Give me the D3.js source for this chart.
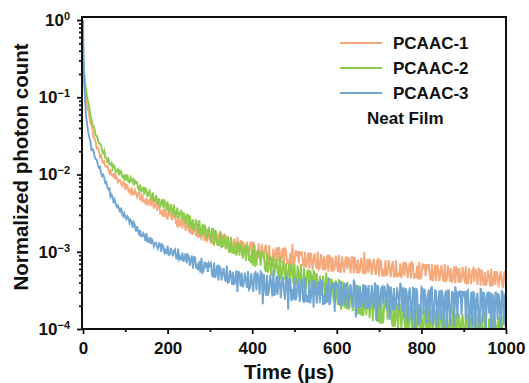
<!DOCTYPE html>
<html>
<head>
<meta charset="utf-8">
<script src="https://cdn.jsdelivr.net/npm/d3@7"></script>
<style>
  body { margin: 0; background: #fff; }
  text { font-family: "Liberation Sans", Arial, sans-serif; font-weight: bold; fill: #111; }
</style>
</head>
<body>
<script>
// width of one time bin of the decay traces (µs)
var dt = 5;

// log10(normalized photon count) x 100
// *Whole: bins at 0, 5, 10 ... 1000 µs;  *Half: bins at 2.5, 7.5 ... 997.5 µs
var pcaac1Whole = [
  -70, -93, -114, -125, -136, -152, -159, -165, -177, -181,
  -183, -190, -193, -193, -202, -206, -204, -207, -212, -210,
  -220, -214, -220, -217, -226, -224, -224, -232, -225, -234,
  -230, -236, -241, -236, -239, -247, -240, -248, -245, -244,
  -257, -252, -259, -255, -263, -254, -264, -270, -261, -265,
  -272, -260, -277, -270, -269, -278, -285, -273, -272, -284,
  -280, -272, -290, -284, -279, -290, -282, -278, -296, -290,
  -283, -294, -290, -281, -297, -300, -290, -292, -298, -289,
  -309, -291, -299, -289, -306, -300, -296, -311, -291, -307,
  -296, -305, -312, -299, -304, -316, -298, -310, -301, -290,
  -315, -306, -315, -305, -317, -300, -312, -322, -305, -311,
  -317, -300, -321, -311, -306, -318, -326, -309, -307, -321,
  -315, -304, -326, -317, -310, -323, -313, -307, -328, -319,
  -310, -323, -317, -300, -324, -327, -314, -317, -323, -312,
  -332, -314, -322, -311, -328, -321, -318, -332, -311, -327,
  -315, -325, -331, -318, -322, -335, -316, -328, -318, -313,
  -332, -323, -332, -322, -333, -316, -329, -338, -321, -326,
  -332, -316, -336, -326, -321, -333, -341, -324, -321, -336,
  -330, -319, -341, -332, -325, -339, -328, -322, -344, -335,
  -326, -339, -333, -322, -340, -343, -330, -333, -339, -328,
  -348
];
var pcaac1Half = [
  -82, -103, -117, -133, -142, -154, -166, -168, -175, -185,
  -189, -189, -198, -201, -198, -201, -210, -207, -215, -211,
  -213, -222, -224, -226, -220, -229, -223, -233, -235, -237,
  -240, -231, -233, -244, -236, -238, -250, -252, -255, -256,
  -247, -249, -250, -252, -266, -268, -257, -258, -273, -260,
  -276, -277, -265, -280, -282, -269, -270, -286, -286, -273,
  -289, -290, -275, -292, -276, -277, -294, -279, -280, -297,
  -298, -283, -300, -300, -285, -286, -303, -287, -305, -288,
  -287, -308, -309, -309, -290, -310, -291, -312, -312, -313,
  -313, -294, -294, -315, -295, -296, -316, -317, -318, -318,
  -298, -299, -299, -300, -320, -321, -301, -301, -323, -302,
  -322, -323, -303, -324, -324, -304, -304, -326, -325, -305,
  -326, -326, -306, -327, -306, -307, -328, -307, -307, -328,
  -328, -308, -329, -329, -309, -309, -330, -309, -330, -310,
  -310, -332, -332, -331, -311, -333, -312, -332, -333, -332,
  -334, -313, -313, -334, -314, -314, -335, -334, -336, -336,
  -315, -316, -316, -316, -337, -338, -317, -317, -338, -317,
  -339, -339, -318, -339, -340, -319, -319, -340, -340, -320,
  -341, -341, -321, -342, -322, -322, -343, -323, -323, -344,
  -344, -324, -345, -345, -325, -325, -346, -325, -347, -326
];

var pcaac2Whole = [
  -48, -81, -102, -114, -128, -137, -150, -155, -160, -169,
  -169, -178, -180, -187, -192, -190, -195, -201, -196, -202,
  -200, -200, -210, -208, -214, -211, -218, -213, -220, -226,
  -220, -224, -229, -223, -235, -232, -231, -238, -244, -237,
  -235, -247, -245, -239, -254, -251, -248, -259, -254, -252,
  -269, -264, -258, -269, -266, -259, -276, -279, -270, -273,
  -281, -270, -292, -275, -284, -274, -293, -287, -285, -300,
  -281, -298, -288, -298, -305, -294, -299, -312, -294, -308,
  -297, -291, -317, -306, -318, -307, -322, -302, -318, -331,
  -310, -317, -326, -306, -333, -320, -315, -330, -341, -322,
  -316, -339, -331, -316, -347, -336, -326, -347, -332, -325,
  -356, -345, -331, -350, -342, -327, -355, -360, -341, -346,
  -358, -337, -375, -343, -358, -339, -371, -359, -353, -380,
  -343, -373, -352, -370, -382, -359, -367, -390, -356, -380,
  -363, -353, -389, -373, -388, -371, -392, -362, -384, -401,
  -371, -381, -392, -362, -399, -381, -373, -393, -409, -378,
  -373, -399, -389, -369, -408, -392, -380, -404, -385, -374,
  -413, -397, -380, -403, -392, -372, -406, -410, -386, -392,
  -403, -381, -418, -386, -399, -379, -410, -397, -391, -416,
  -378, -407, -386, -403, -414, -390, -397, -420, -385, -407,
  -389
];
var pcaac2Half = [
  -65, -90, -106, -123, -136, -142, -150, -160, -162, -172,
  -178, -183, -187, -185, -188, -197, -193, -195, -203, -206,
  -208, -210, -204, -206, -208, -210, -220, -222, -216, -218,
  -229, -221, -233, -235, -227, -239, -241, -232, -234, -246,
  -248, -238, -252, -253, -243, -257, -247, -249, -264, -252,
  -253, -271, -273, -258, -276, -278, -264, -265, -283, -268,
  -287, -270, -272, -291, -293, -294, -278, -297, -281, -300,
  -302, -303, -305, -288, -289, -309, -292, -293, -312, -315,
  -318, -318, -298, -299, -300, -302, -326, -327, -305, -307,
  -331, -309, -333, -334, -312, -336, -337, -315, -316, -342,
  -344, -318, -346, -347, -321, -349, -323, -324, -353, -327,
  -328, -356, -357, -331, -360, -360, -334, -335, -364, -337,
  -369, -338, -339, -372, -374, -375, -344, -377, -346, -380,
  -381, -382, -383, -352, -353, -386, -355, -356, -389, -391,
  -393, -393, -362, -362, -363, -364, -397, -397, -366, -367,
  -400, -368, -401, -401, -370, -403, -403, -372, -372, -406,
  -405, -374, -407, -407, -375, -408, -376, -377, -410, -378,
  -378, -410, -411, -379, -412, -412, -380, -380, -413, -381,
  -413, -381, -382, -414, -414, -414, -382, -415, -383, -415,
  -415, -416, -416, -384, -384, -416, -385, -385, -417, -417
];

var pcaac3Whole = [
  0, -106, -136, -152, -168, -170, -180, -187, -190, -202,
  -204, -210, -219, -229, -229, -233, -242, -244, -243, -254,
  -255, -254, -263, -261, -262, -274, -273, -272, -280, -279,
  -276, -287, -290, -286, -289, -293, -289, -300, -293, -298,
  -292, -304, -300, -299, -308, -296, -307, -301, -309, -315,
  -306, -310, -322, -307, -318, -312, -308, -325, -318, -326,
  -318, -330, -314, -327, -337, -321, -327, -334, -318, -339,
  -330, -326, -337, -352, -329, -327, -341, -336, -325, -347,
  -340, -329, -350, -334, -326, -368, -345, -330, -349, -340,
  -324, -352, -356, -337, -340, -350, -332, -375, -337, -348,
  -333, -358, -348, -343, -362, -333, -356, -338, -353, -372,
  -343, -348, -366, -338, -356, -342, -333, -363, -348, -378,
  -347, -363, -338, -357, -369, -344, -352, -361, -336, -385,
  -351, -344, -360, -373, -348, -343, -365, -356, -340, -390,
  -358, -347, -368, -352, -343, -388, -362, -347, -365, -356,
  -340, -378, -385, -352, -355, -372, -347, -400, -351, -368,
  -346, -382, -361, -356, -392, -345, -378, -351, -366, -388,
  -355, -360, -405, -350, -376, -354, -345, -386, -359, -382,
  -358, -388, -350, -376, -398, -355, -362, -384, -347, -392,
  -361, -354, -380, -410, -359, -353, -388, -366, -350, -395,
  -375
];
var pcaac3Half = [
  -75, -126, -146, -157, -167, -177, -181, -191, -198, -200,
  -211, -216, -218, -226, -237, -239, -240, -249, -251, -250,
  -258, -256, -259, -269, -265, -267, -277, -280, -276, -286,
  -287, -281, -284, -293, -288, -296, -290, -291, -301, -303,
  -304, -295, -306, -297, -309, -310, -311, -313, -302, -304,
  -318, -305, -307, -322, -324, -327, -327, -313, -314, -315,
  -315, -333, -334, -317, -319, -337, -321, -339, -340, -324,
  -343, -343, -324, -325, -345, -346, -327, -347, -349, -328,
  -352, -327, -327, -355, -328, -329, -357, -357, -330, -358,
  -357, -331, -331, -360, -333, -362, -334, -334, -364, -362,
  -363, -335, -365, -335, -366, -365, -366, -367, -337, -337,
  -367, -338, -337, -369, -368, -366, -369, -340, -340, -339,
  -340, -370, -370, -340, -341, -372, -342, -372, -341, -343,
  -373, -372, -342, -343, -374, -373, -343, -374, -344, -343,
  -374, -345, -344, -375, -345, -345, -376, -375, -346, -376,
  -346, -346, -347, -392, -346, -390, -348, -347, -395, -392,
  -348, -348, -393, -349, -348, -395, -350, -398, -350, -349,
  -398, -350, -350, -396, -351, -396, -353, -351, -350, -351,
  -351, -352, -400, -352, -351, -400, -353, -400, -353, -352,
  -402, -353, -352, -354, -405, -353, -354, -405, -353, -354
];

var seriesNames = ["PCAAC-1", "PCAAC-2", "PCAAC-3"];
var seriesColors = ["#f6a97b", "#8dcb4c", "#71a6d3"];
var xTicks = [0, 200, 400, 600, 800, 1000];
var xMinorTicks = [100, 300, 500, 700, 900];
var yTicks = [1e-4, 1e-3, 1e-2, 1e-1, 1];

drawChart();

// put the whole-bin and half-bin samples back in time order
function mergeBins(whole, half) {
    var out = [];
    whole.forEach(function(v, i) {
        out.push({ t: i * dt, v: v });
        if (i < half.length) out.push({ t: i * dt + dt / 2, v: half[i] });
    });
    return out;
}

function drawChart() {
    var width = 529, height = 383;
    var plotLeft = 82, plotRight = 506, plotTop = 17, plotBottom = 329;

    var svg = d3.select("body").append("svg")
        .attr("width", width)
        .attr("height", height);

    var x = d3.scaleLinear().domain([-2.4, 1000]).range([plotLeft, plotRight]);
    var y = d3.scaleLog().domain([1e-4, 1.094]).range([plotBottom, plotTop]);

    svg.append("clipPath").attr("id", "plot-clip")
      .append("rect")
        .attr("x", plotLeft).attr("y", plotTop)
        .attr("width", plotRight - plotLeft).attr("height", plotBottom - plotTop);

    // traces, drawn orange then green then blue
    var line = d3.line()
        .x(function(d) { return x(d.t); })
        .y(function(d) { return y(Math.pow(10, d.v / 100)); });

    var traces = [
        mergeBins(pcaac1Whole, pcaac1Half),
        mergeBins(pcaac2Whole, pcaac2Half),
        mergeBins(pcaac3Whole, pcaac3Half)
    ];
    svg.append("g").attr("clip-path", "url(#plot-clip)")
      .selectAll("path")
      .data(traces)
      .enter()
      .append("path")
        .attr("d", line)
        .attr("fill", "none")
        .attr("stroke", function(d, i) { return seriesColors[i]; })
        .attr("stroke-width", 1.9);

    // minor y ticks (2..9 in each decade below 1)
    var yMinorTicks = [];
    [-4, -3, -2, -1].forEach(function(e) {
        for (var k = 2; k <= 9; k++) yMinorTicks.push(k * Math.pow(10, e));
    });

    function styleAxis(g) {
        g.select(".domain").remove();
        g.selectAll(".tick line").attr("stroke", "#111").attr("stroke-width", 1.8);
    }

    svg.append("g")
        .attr("transform", "translate(" + plotLeft + ",0)")
        .call(d3.axisLeft(y).tickValues(yMinorTicks).tickSize(3).tickFormat(""))
        .call(styleAxis);

    var yAxisG = svg.append("g")
        .attr("transform", "translate(" + plotLeft + ",0)")
        .call(d3.axisLeft(y).tickValues(yTicks).tickSize(5).tickPadding(7).tickFormat(""))
        .call(styleAxis);

    yAxisG.selectAll(".tick text").each(function(d) {
        var e = Math.round(Math.log10(d));
        var t = d3.select(this)
            .attr("font-size", 17)
            .attr("fill", "#111")
            .text("10");
        t.append("tspan")
            .attr("dy", "-0.55em")
            .attr("font-size", 11)
            .text(e < 0 ? "\u2212" + (-e) : e);
    });

    svg.append("g")
        .attr("transform", "translate(0," + plotBottom + ")")
        .call(d3.axisBottom(x).tickValues(xMinorTicks).tickSize(3).tickFormat(""))
        .call(styleAxis);

    svg.append("g")
        .attr("transform", "translate(0," + plotBottom + ")")
        .call(d3.axisBottom(x).tickValues(xTicks).tickSize(5).tickPadding(8).tickFormat(d3.format("d")))
        .call(styleAxis)
        .call(function(g) {
            g.selectAll(".tick text").attr("font-size", 17).attr("fill", "#111");
        });

    // frame
    svg.append("rect")
        .attr("x", plotLeft).attr("y", plotTop)
        .attr("width", plotRight - plotLeft).attr("height", plotBottom - plotTop)
        .attr("fill", "none")
        .attr("stroke", "#111")
        .attr("stroke-width", 2);

    // axis titles
    svg.append("text")
        .attr("x", 289).attr("y", 379)
        .attr("text-anchor", "middle")
        .attr("font-size", 20.5)
        .text("Time (\u00b5s)");

    svg.append("text")
        .attr("transform", "translate(28,167) rotate(-90)")
        .attr("text-anchor", "middle")
        .attr("font-size", 20.5)
        .text("Normalized photon count");

    // legend
    var legend = svg.append("g");
    seriesNames.forEach(function(name, i) {
        var ly = 43 + i * 25;
        legend.append("line")
            .attr("x1", 340).attr("x2", 382)
            .attr("y1", ly).attr("y2", ly)
            .attr("stroke", seriesColors[i])
            .attr("stroke-width", 2);
        legend.append("text")
            .attr("x", 393).attr("y", ly)
            .attr("dy", "0.35em")
            .attr("font-size", 17)
            .text(name);
    });
    legend.append("text")
        .attr("x", 367).attr("y", 118)
        .attr("dy", "0.35em")
        .attr("font-size", 17)
        .text("Neat Film");
}
</script>
</body>
</html>
